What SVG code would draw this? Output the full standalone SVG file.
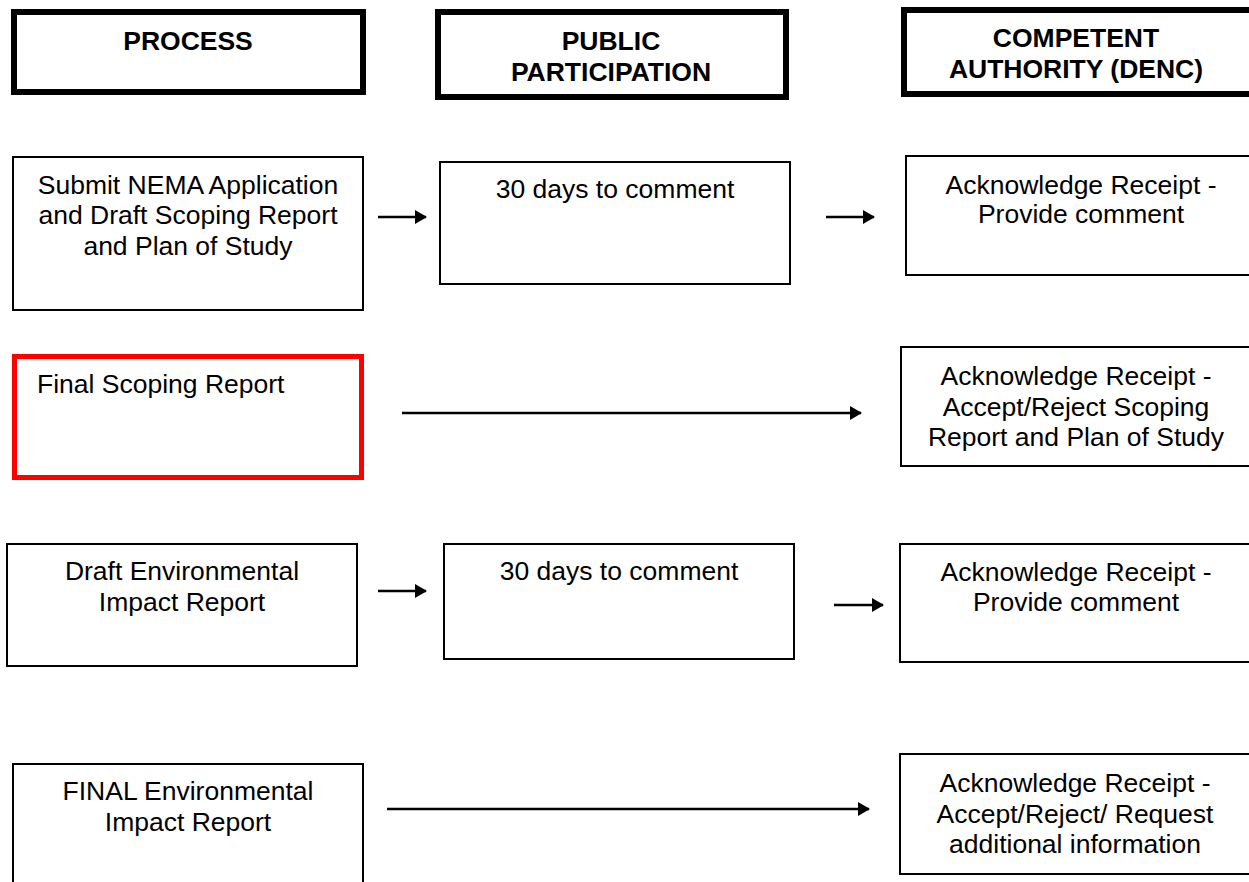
<svg xmlns="http://www.w3.org/2000/svg" width="1249" height="882" viewBox="0 0 1249 882">
<style>
.hdr{fill:#fff;stroke:#000;stroke-width:6}
.box{fill:#fff;stroke:#000;stroke-width:2}
.red{fill:#fff;stroke:#ff0000;stroke-width:5}
.h{font-family:"Liberation Sans",Arial,sans-serif;font-weight:bold;font-size:26.5px;text-anchor:middle;fill:#000}
.t{font-family:"Liberation Sans",Arial,sans-serif;font-size:26.5px;text-anchor:middle;fill:#000}
.l{text-anchor:start}
.c{stroke:#000;stroke-width:2.5;fill:none;marker-end:url(#ah)}
</style>
<defs>
<marker id="ah" markerWidth="12" markerHeight="14" refX="11" refY="7" orient="auto" markerUnits="userSpaceOnUse" viewBox="0 0 12 14">
<path d="M0,0 L12,7 L0,14 Z" fill="#000"/>
</marker>
</defs>
<rect width="1249" height="882" fill="#fff"/>
<g id="hdr-process">
<rect class="hdr" x="14" y="12" width="349" height="80"/>
<text class="h" x="188" y="50">PROCESS</text>
</g>
<g id="hdr-public">
<rect class="hdr" x="438" y="12" width="348" height="85"/>
<text class="h" x="611" y="50">PUBLIC</text>
<text class="h" x="611" y="81">PARTICIPATION</text>
</g>
<g id="hdr-authority">
<rect class="hdr" x="904" y="10" width="360" height="84"/>
<text class="h" x="1076" y="47">COMPETENT</text>
<text class="h" x="1076" y="78">AUTHORITY (DENC)</text>
</g>
<g id="submit">
<rect class="box" x="13" y="157" width="350" height="153"/>
<text class="t" x="188" y="194">Submit NEMA Application</text>
<text class="t" x="188" y="224">and Draft Scoping Report</text>
<text class="t" x="188" y="255">and Plan of Study</text>
</g>
<g id="pp1">
<rect class="box" x="440" y="162" width="350" height="122"/>
<text class="t" x="615" y="198">30 days to comment</text>
</g>
<g id="ca1">
<rect class="box" x="906" y="156" width="360" height="119"/>
<text class="t" x="1081" y="194">Acknowledge Receipt -</text>
<text class="t" x="1081" y="223">Provide comment</text>
</g>
<g id="final-scoping">
<rect class="red" x="14.5" y="356.5" width="347" height="121"/>
<text class="t l" x="37" y="393">Final Scoping Report</text>
</g>
<g id="ca2">
<rect class="box" x="901" y="347" width="360" height="119"/>
<text class="t" x="1076" y="385">Acknowledge Receipt -</text>
<text class="t" x="1076" y="416">Accept/Reject Scoping</text>
<text class="t" x="1076" y="446">Report and Plan of Study</text>
</g>
<g id="draft-eir">
<rect class="box" x="7" y="544" width="350" height="122"/>
<text class="t" x="182" y="580">Draft Environmental</text>
<text class="t" x="182" y="611">Impact Report</text>
</g>
<g id="pp2">
<rect class="box" x="444" y="544" width="350" height="115"/>
<text class="t" x="619" y="580">30 days to comment</text>
</g>
<g id="ca3">
<rect class="box" x="900" y="544" width="360" height="118"/>
<text class="t" x="1076" y="581">Acknowledge Receipt -</text>
<text class="t" x="1076" y="611">Provide comment</text>
</g>
<g id="final-eir">
<rect class="box" x="13" y="764" width="350" height="140"/>
<text class="t" x="188" y="800">FINAL Environmental</text>
<text class="t" x="188" y="831">Impact Report</text>
</g>
<g id="ca4">
<rect class="box" x="900" y="754" width="360" height="120"/>
<text class="t" x="1075" y="792">Acknowledge Receipt -</text>
<text class="t" x="1075" y="823">Accept/Reject/ Request</text>
<text class="t" x="1075" y="853">additional information</text>
</g>
<g id="connectors">
<line class="c" x1="378" y1="217" x2="426" y2="217"/>
<line class="c" x1="826" y1="217" x2="874" y2="217"/>
<line class="c" x1="402" y1="413" x2="861" y2="413"/>
<line class="c" x1="378" y1="591" x2="426" y2="591"/>
<line class="c" x1="834" y1="605" x2="883" y2="605"/>
<line class="c" x1="387" y1="809" x2="869" y2="809"/>
</g>
</svg>
